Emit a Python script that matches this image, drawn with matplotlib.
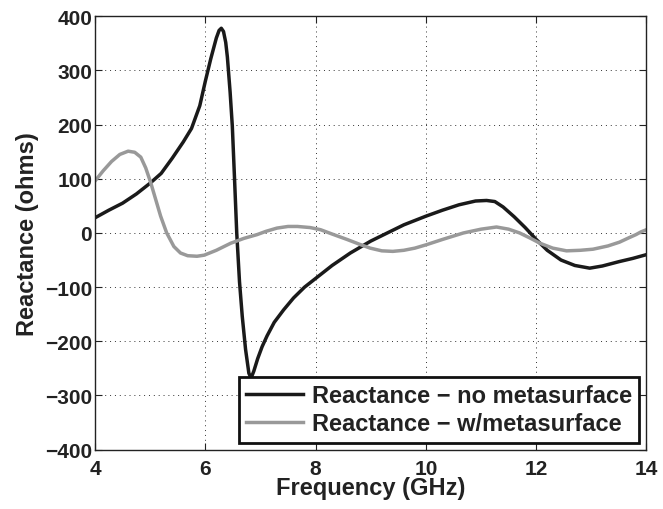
import matplotlib
matplotlib.use("Agg")
import matplotlib.pyplot as plt

plt.rcParams['font.family'] = ['Liberation Sans', 'DejaVu Sans']
plt.rcParams['font.weight'] = 'bold'

# Reactance without metasurface
freq_no = [4.0, 4.25, 4.5, 4.75, 5.0, 5.2, 5.4, 5.6, 5.75, 5.9, 6.0, 6.1, 6.2,
           6.25, 6.29, 6.33, 6.37, 6.40, 6.45, 6.49, 6.53, 6.57, 6.62, 6.67,
           6.73, 6.79, 6.83, 6.88, 6.95, 7.03, 7.12, 7.25, 7.42, 7.6, 7.8,
           8.0, 8.3, 8.63, 9.0, 9.3, 9.6, 10.0, 10.3, 10.6, 10.9, 11.1, 11.25,
           11.4, 11.6, 11.8, 12.0, 12.2, 12.45, 12.7, 12.97, 13.2, 13.5,
           13.75, 14.0]
x_no = [28, 42, 55, 72, 92, 110, 138, 168, 193, 235, 280, 322, 360,
        374, 378, 372, 352, 325, 260, 197, 100, 0, -90, -154,
        -215, -259, -268, -255, -232, -210, -190, -165, -142, -120, -100,
        -84, -60, -37, -15, 0, 15, 31, 42, 52, 59, 60, 58,
        48, 30, 10, -12, -32, -50, -60, -65, -61, -53,
        -47, -40]

# Reactance with metasurface
freq_ms = [4.0, 4.15, 4.3, 4.45, 4.6, 4.72, 4.83, 4.92, 5.01, 5.1, 5.19, 5.3,
           5.43, 5.55, 5.68, 5.85, 5.98, 6.2, 6.46, 6.7, 6.94, 7.1, 7.3, 7.5,
           7.67, 7.9, 8.09, 8.3, 8.57, 8.8, 8.99, 9.2, 9.4, 9.6, 9.8, 10.0,
           10.3, 10.68, 11.0, 11.28, 11.5, 11.7, 11.9, 12.07, 12.3, 12.55,
           12.8, 13.03, 13.3, 13.51, 13.7, 13.81, 13.9, 14.0]
x_ms = [96, 115, 132, 145, 151, 149, 140, 120, 93, 62, 31, 0,
        -25, -37, -42, -43, -41, -32, -19, -10, -3, 3, 9, 12,
        12, 10, 6, -2, -12, -21, -28, -33, -34, -32, -28, -22,
        -12, 0, 7, 11, 7, 0, -10, -19, -28, -33,
        -32, -30, -24, -17, -8, -3, 2, 6]

labels = ['Reactance \u2212 no metasurface', 'Reactance \u2212 w/metasurface']
x_ticks = [4, 6, 8, 10, 12, 14]
y_ticks = [-400, -300, -200, -100, 0, 100, 200, 300, 400]

fig = plt.figure(figsize=(6.63, 5.10), dpi=100)
ax = fig.add_axes([0.1433, 0.1165, 0.8318, 0.8495])

ax.plot(freq_no, x_no, color='#1a1a1a', lw=2.5, label=labels[0])
ax.plot(freq_ms, x_ms, color='#999999', lw=2.5, label=labels[1])

ax.set_xlim(4, 14)
ax.set_ylim(-400, 400)
ax.set_xticks(x_ticks)
ax.set_yticks(y_ticks)
ax.set_yticklabels([str(v).replace('-', '\u2212') for v in y_ticks])
ax.tick_params(direction='in', length=5, width=0.8, top=True, right=True,
               labelsize=15, pad=2, colors='#222222')
ax.tick_params(axis='x', pad=6.5)
for lab in ax.get_xticklabels() + ax.get_yticklabels():
    lab.set_fontweight('bold')
for sp in ax.spines.values():
    sp.set_linewidth(1.0)
    sp.set_color('#222222')

ax.grid(True, linestyle=(0, (1, 4)), color='#333333', linewidth=0.7)

ax.set_xlabel('Frequency (GHz)', fontsize=17, fontweight='bold',
              color='#222222', labelpad=-1)
ax.set_ylabel('Reactance (ohms)', fontsize=17, fontweight='bold',
              color='#222222', labelpad=4)

leg = ax.legend(loc='lower right', fontsize=17, frameon=True, fancybox=False,
                borderaxespad=0.3, handlelength=2.4, handletextpad=0.4,
                borderpad=0.3, labelspacing=0.22)
leg.get_frame().set_edgecolor('#111111')
leg.get_frame().set_linewidth(2.0)
leg.get_frame().set_alpha(1.0)
for t in leg.get_texts():
    t.set_fontweight('bold')
    t.set_color('#222222')

fig.savefig('out.png', dpi=100, facecolor='white')
